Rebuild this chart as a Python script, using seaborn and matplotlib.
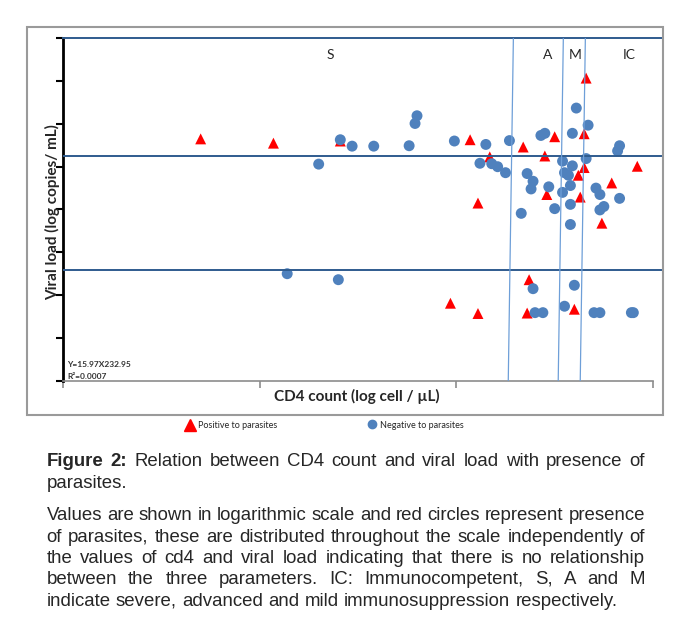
import pandas as pd
import matplotlib
matplotlib.use("Agg")
import matplotlib.pyplot as plt
import seaborn as sns
from matplotlib.lines import Line2D
from matplotlib.patches import Rectangle

# CD4 count (log10 cells/uL) and viral load (log10 copies/mL)
pos_cd4 = [0.70, 1.07, 1.41, 2.07, 2.17, 2.11, 2.34, 2.50, 2.45, 2.46, 2.66, 2.65,
           2.65, 2.62, 2.63, 2.79, 2.74, 2.92, 2.37, 1.97, 2.11, 2.36, 2.60]
pos_vl = [5.65, 5.55, 5.60, 5.63, 5.23, 4.15, 5.46, 5.70, 5.25, 4.35, 7.07, 5.77,
          4.98, 4.80, 4.29, 4.62, 3.68, 5.01, 2.36, 1.81, 1.57, 1.58, 1.67]

neg_cd4 = [1.30, 1.41, 1.47, 1.58, 1.76, 1.79, 1.80, 1.99, 2.15, 2.27, 2.12, 2.18,
           2.21, 2.25, 2.36, 2.39, 2.38, 2.33, 2.43, 2.45, 2.47, 2.50, 2.54, 2.59,
           2.55, 2.57, 2.58, 2.54, 2.58, 2.58, 2.61, 2.67, 2.59, 2.66, 2.71, 2.73,
           2.75, 2.73, 2.83, 2.83, 2.82, 1.14, 1.40, 2.39, 2.60, 2.40, 2.44, 2.55,
           2.70, 2.73, 2.89, 2.90]
neg_vl = [5.06, 5.63, 5.48, 5.48, 5.49, 6.01, 6.19, 5.60, 5.52, 5.61, 5.08, 5.07,
          5.00, 4.86, 4.84, 4.66, 4.48, 3.91, 5.73, 5.78, 4.53, 4.02, 5.13, 5.02,
          4.86, 4.80, 4.56, 4.40, 4.12, 3.65, 6.37, 5.97, 5.78, 5.19, 4.50, 4.35,
          4.07, 3.99, 4.26, 5.49, 5.37, 2.50, 2.36, 2.15, 2.23, 1.59, 1.59, 1.74,
          1.59, 1.59, 1.59, 1.59]

# viral load cut-offs and CD4 category boundaries (top, bottom)
vl_cutoffs = [5.25, 2.59]
cd4_bounds_top = [2.29, 2.544, 2.656]
cd4_bounds_bottom = [2.264, 2.518, 2.630]
zone_labels = ["S", "A", "M", "IC"]
zone_x = [1.358, 2.463, 2.603, 2.880]

df = pd.DataFrame({
    "cd4": pos_cd4 + neg_cd4,
    "vl": pos_vl + neg_vl,
    "group": ["Positive"] * len(pos_cd4) + ["Negative"] * len(neg_cd4),
})

sns.set_style("white")
plt.rcParams["font.family"] = ["Lato", "DejaVu Sans"]

W, H = 675, 624
fig = plt.figure(figsize=(6.75, 6.24), dpi=100)
ax = fig.add_axes([63 / W, 1 - 380.7 / H, 599.7 / W, 342.4 / H])

dark_blue = "#2F5B8E"
light_blue = "#6E9FD8"

sns.scatterplot(data=df, x="cd4", y="vl", hue="group", style="group",
                markers={"Positive": "^", "Negative": "o"},
                palette={"Positive": "#FF0000", "Negative": "#4F81BD"},
                s=62, linewidth=0, legend=False, ax=ax, zorder=2)

for v in vl_cutoffs:
    ax.axhline(v, color=dark_blue, lw=1.4, zorder=3)
for xt, xb in zip(cd4_bounds_top, cd4_bounds_bottom):
    ax.plot([xt, xb], [8, 0], color=light_blue, lw=0.9, zorder=3)

for lab, xz in zip(zone_labels, zone_x):
    ax.text(xz, 7.6, lab, ha="center", va="center", fontsize=10)

ax.text(0.02, 0.32, "Y=15.97X232.95", fontsize=6, fontweight="bold", color="#333333")
ax.text(0.02, 0.04, "R²=0.0007", fontsize=6, fontweight="bold", color="#333333")

ax.set_xlim(0, 599.7 / 196.67)
ax.set_ylim(0, 8)
ax.set_xticks([0, 1, 2, 3])
ax.set_yticks(range(9))
ax.set_xticklabels([])
ax.set_yticklabels([])
ax.tick_params(axis="x", direction="out", length=5, width=1.2, color="#8C8C8C", bottom=True)
ax.tick_params(axis="y", direction="out", length=5, width=1.5, color="black", left=True)
ax.spines["right"].set_visible(False)
ax.spines["top"].set_color(dark_blue)
ax.spines["top"].set_linewidth(1.4)
ax.spines["left"].set_color("black")
ax.spines["left"].set_linewidth(2)
ax.spines["bottom"].set_color("#8C8C8C")
ax.spines["bottom"].set_linewidth(1.2)
ax.spines["bottom"].set_bounds(0, 3)

ax.set_xlabel("")
ax.set_ylabel("")
fig.text(357 / W, 1 - 396 / H, "CD4 count (log cell / µL)", ha="center", va="center",
         fontsize=11, fontweight="bold")
fig.text(53 / W, 1 - 212 / H, "Viral load (log copies/ mL)", ha="center", va="center",
         rotation=90, fontsize=11, fontweight="bold")

# outer frame
fig.add_artist(Rectangle((27.3 / W, 1 - 415 / H), 635.4 / W, 387.7 / H, fill=False,
                         edgecolor="#9A9A9A", lw=1.5, transform=fig.transFigure))

# legend below the frame
fig.add_artist(Line2D([190 / W], [1 - 425 / H], marker="^", color="#FF0000", ms=8,
                      transform=fig.transFigure))
fig.text(198 / W, 1 - 425 / H, "Positive to parasites", fontsize=6.5, va="center")
fig.add_artist(Line2D([372 / W], [1 - 424 / H], marker="o", color="#4F81BD", ms=6,
                      transform=fig.transFigure))
fig.text(380 / W, 1 - 425 / H, "Negative to parasites", fontsize=6.5, va="center")

# caption, justified by hand
caption = [
    ("Figure 2: Relation between CD4 count and viral load with presence of", 466, True),
    ("parasites.", 487.7, False),
    ("Values are shown in logarithmic scale and red circles represent presence", 520, True),
    ("of parasites, these are distributed throughout the scale independently of", 541.7, True),
    ("the values of cd4 and viral load indicating that there is no relationship", 563.3, True),
    ("between the three parameters. IC: Immunocompetent, S, A and M", 584, True),
    ("indicate severe, advanced and mild immunosuppression respectively.", 605.7, False),
]
renderer = fig.canvas.get_renderer()
x0, x1 = 46.5, 645
cap_size = 13.4
for i, (line, yb, justify) in enumerate(caption):
    words = line.split()
    texts = []
    for j, w in enumerate(words):
        bold = i == 0 and j < 2
        texts.append(fig.text(0, 1 - yb / H, w, fontsize=cap_size, va="baseline",
                              family="Liberation Sans",
                              fontweight="bold" if bold else "normal"))
    widths = [t.get_window_extent(renderer).width for t in texts]
    if justify:
        gap = (x1 - x0 - sum(widths)) / (len(words) - 1)
    else:
        gap = 0.28 * cap_size * 100 / 72
    x = x0
    for t, w in zip(texts, widths):
        t.set_x(x / W)
        x += w + gap

fig.savefig("out.png", dpi=100)
